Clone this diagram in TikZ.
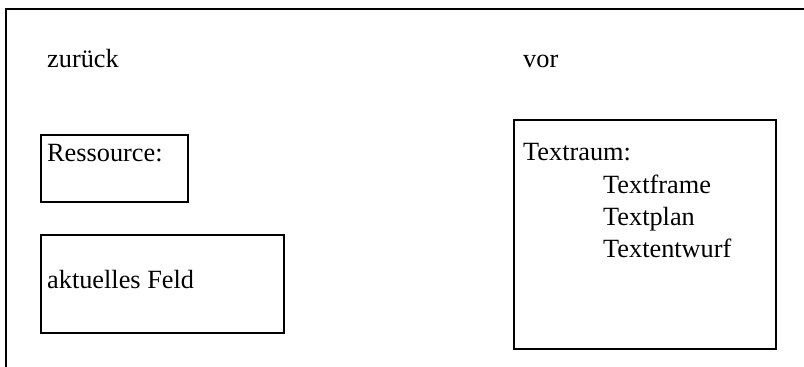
\documentclass[tikz,border=0pt]{standalone}
\usepackage{fontspec}
\setmainfont{Liberation Serif}
\begin{document}
\begin{tikzpicture}[x=1pt,y=-1pt,
  lbl/.style={anchor=base west,inner sep=0pt,font=\fontsize{26.3}{31}\selectfont},
  frame/.style={draw,line width=1.6pt,inner sep=0pt,anchor=north west}]
\useasboundingbox (0,0) rectangle (804,367);
\draw[line width=1.6pt] (6,367) -- (6,9) -- (804,9);
\node[frame,minimum width=147pt,minimum height=67pt] (res) at (40,134) {};
\node[frame,minimum width=243pt,minimum height=98pt] (feld) at (40,234) {};
\node[frame,minimum width=262pt,minimum height=229pt] (raum) at (513,119) {};
\node[lbl] (zur) at (47,67) {zurück};
\node[lbl] (vor) at (523,67) {vor};
\node[lbl] (rest) at (47,161) {Ressource:};
\node[lbl] (feldt) at (47,288) {aktuelles Feld};
\node[lbl] (tr) at (523,160) {Textraum:};
\node[lbl] (tf) at (603,193) {Textframe};
\node[lbl] (tp) at (603,225) {Textplan};
\node[lbl] (te) at (603,257) {Textentwurf};
\end{tikzpicture}
\end{document}
